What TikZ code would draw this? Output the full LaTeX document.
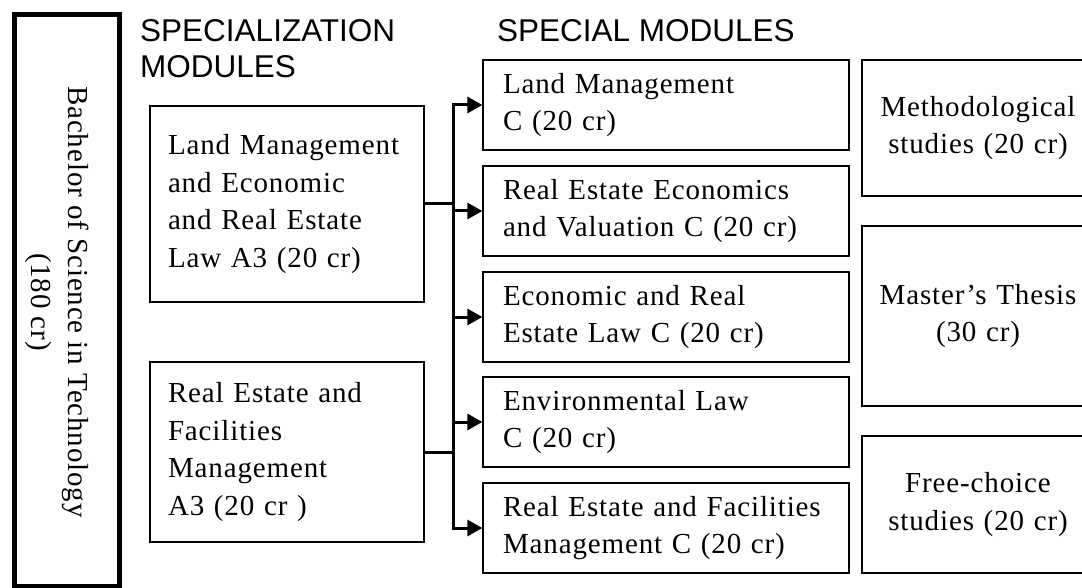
\documentclass[tikz,border=0pt]{standalone}
\usepackage{fontspec}
\setmainfont{Liberation Serif}[LetterSpace=3]
\newfontfamily\headfont{Liberation Sans}
\usetikzlibrary{arrows.meta}

\begin{document}
\begin{tikzpicture}[x=1pt,y=-1pt,>={Triangle[length=15pt,width=16pt]},
                    line join=miter]

  \tikzstyle{every node}=[font=\fontsize{29}{37.7}\selectfont]
  \tikzstyle{frame}=[draw,line width=1.3pt,inner ysep=0pt]
  \tikzstyle{spec}=[frame,minimum width=274pt,text width=238pt,inner xsep=18pt,align=left]
  \tikzstyle{special}=[frame,minimum width=366pt,minimum height=90pt,text width=326pt,inner xsep=20pt,align=left]
  \tikzstyle{other}=[frame,minimum width=232pt,text width=224pt,inner xsep=4pt,align=center]
  \tikzstyle{head}=[font=\headfont\fontsize{31.5}{36}\selectfont,anchor=north west,inner sep=0pt,align=left]
  \tikzstyle{bus}=[line width=3pt]

  \useasboundingbox (0,0) rectangle (1082,588);

  \node[draw,line width=5pt,minimum width=105pt,minimum height=571.5pt,inner sep=0pt] (BSc) at (66.5,300.25) {};
  \node[rotate=-90,align=center] (BScText) at (57,302) {Bachelor of Science in Technology\\(180 cr)};

  \node[head] (SpecH)    at (140,19) {SPECIALIZATION\\MODULES};
  \node[head] (SpecialH) at (497,19) {SPECIAL MODULES};

  \node[spec,minimum height=196pt] (LM) at (287,204) {Land Management\\and Economic\\and Real Estate\\Law A3 (20 cr)};
  \node[spec,minimum height=180pt] (RF) at (287,452) {Real Estate and\\Facilities\\Management\\A3 (20 cr )};

  \node[special] (S1) at (666,105) {Land Management\\C (20 cr)};
  \node[special] (S2) at (666,211) {Real Estate Economics\\and Valuation C (20 cr)};
  \node[special] (S3) at (666,317) {Economic and Real\\Estate Law C (20 cr)};
  \node[special] (S4) at (666,422) {Environmental Law\\C (20 cr)};
  \node[special] (S5) at (666,528) {Real Estate and Facilities\\Management C (20 cr)};

  \node[other,minimum height=136pt] (MS) at (978,128)   {Methodological\\studies (20 cr)};
  \node[other,minimum height=180pt] (MT) at (978,316)   {Master's Thesis\\(30 cr)};
  \node[other,minimum height=137pt] (FC) at (978,504.5) {Free-choice\\studies (20 cr)};

  \coordinate (bus) at (453,0);
  \draw[bus] (LM.east) -- (LM.east -| bus);
  \draw[bus] (RF.east) -- (RF.east -| bus);
  \draw[bus,line cap=rect] (S1.west -| bus) -- (S5.west -| bus);

  \path[bus,->]
  (S1.west -| bus) edge (S1.west)
  (S2.west -| bus) edge (S2.west)
  (S3.west -| bus) edge (S3.west)
  (S4.west -| bus) edge (S4.west)
  (S5.west -| bus) edge (S5.west)
  ;
\end{tikzpicture}
\end{document}
